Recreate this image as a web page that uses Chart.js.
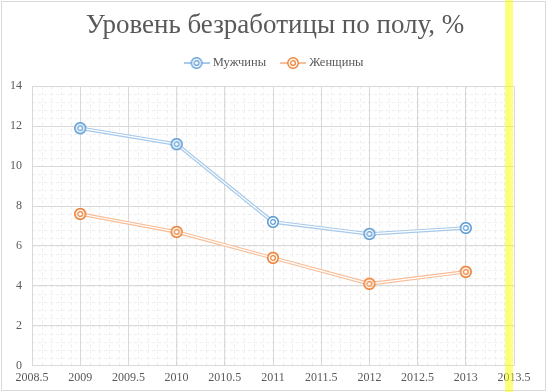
<!DOCTYPE html>
<html>
<head>
<meta charset="utf-8">
<script src="https://cdn.jsdelivr.net/npm/chart.js@4"></script>
<style>
html,body{margin:0;padding:0;background:#fff;}
#wrap{position:relative;width:546px;height:392px;overflow:hidden;background:#fff;}
#frame{position:absolute;left:1px;top:1px;width:545px;height:390px;border:1px solid #d9d9d9;box-sizing:border-box;}
#chart{position:absolute;left:0;top:0;}
#stripe{position:absolute;left:505px;top:0;width:8px;height:392px;background:rgba(255,255,0,0.5);}
</style>
</head>
<body>
<div id="wrap">
  <div id="frame"></div>
  <canvas id="chart" width="546" height="392"></canvas>
  <div id="stripe"></div>
</div>
<script>
const years = [2009, 2010, 2011, 2012, 2013];
const menValues = [11.9, 11.1, 7.2, 6.6, 6.9];
const womenValues = [7.6, 6.7, 5.4, 4.1, 4.7];
const seriesNames = ['Мужчины', 'Женщины'];
const xTickLabels = ['2008.5','2009','2009.5','2010','2010.5','2011','2011.5','2012','2012.5','2013','2013.5'];
const yTickLabels = ['0','2','4','6','8','10','12','14'];
const titleText = 'Уровень безработицы по полу, %';

const BLUE = '#5b9bd5', BLUE_LINE = '#a6c9ea';
const ORANGE = '#ed7d31', ORANGE_LINE = '#f7be98';
const TEXT = '#595959';
const FONT = 'Liberation Serif';
const X_MINOR_STEP = 0.1, Y_MINOR_STEP = 0.4;

function ringMarker(color, w, lineColor) {
  const c = document.createElement('canvas');
  c.width = w; c.height = 14;
  const g = c.getContext('2d');
  const cx = w / 2, cy = 7;
  if (lineColor) {
    g.strokeStyle = lineColor; g.lineWidth = 2;
    g.beginPath(); g.moveTo(0, cy); g.lineTo(w, cy); g.stroke();
  }
  g.fillStyle = '#ffffff';
  g.beginPath(); g.arc(cx, cy, 5.2, 0, Math.PI * 2); g.fill();
  g.strokeStyle = color; g.lineWidth = 1.4;
  g.beginPath(); g.arc(cx, cy, 5.2, 0, Math.PI * 2); g.stroke();
  g.lineWidth = 1.2;
  g.beginPath(); g.arc(cx, cy, 2.4, 0, Math.PI * 2); g.stroke();
  return c;
}
const pointIcons = [ringMarker(BLUE, 14), ringMarker(ORANGE, 14)];
const legendIcons = [ringMarker(BLUE, 26, BLUE_LINE), ringMarker(ORANGE, 26, ORANGE_LINE)];

// minor dashed gridlines, positioned through the chart's own scales
const minorGrid = {
  id: 'minorGrid',
  beforeDraw(chart) {
    const { ctx, chartArea: a, scales: { x, y } } = chart;
    ctx.save();
    ctx.strokeStyle = '#eeeeee';
    ctx.lineWidth = 1;
    ctx.setLineDash([3, 3]);
    const nx = Math.round((x.max - x.min) / X_MINOR_STEP);
    for (let i = 1; i < nx; i++) {
      const px = Math.round(x.getPixelForValue(x.min + i * X_MINOR_STEP)) + 0.5;
      ctx.beginPath(); ctx.moveTo(px, a.top); ctx.lineTo(px, a.bottom); ctx.stroke();
    }
    const ny = Math.round((y.max - y.min) / Y_MINOR_STEP);
    for (let j = 1; j < ny; j++) {
      const py = Math.round(y.getPixelForValue(y.min + j * Y_MINOR_STEP)) + 0.5;
      ctx.beginPath(); ctx.moveTo(a.left, py); ctx.lineTo(a.right, py); ctx.stroke();
    }
    ctx.restore();
  }
};
const doubleLine = {
  id: 'doubleLine',
  afterDatasetDraw(chart, args) {
    const pts = args.meta.data;
    const ctx = chart.ctx;
    ctx.save();
    ctx.strokeStyle = '#ffffff';
    ctx.lineWidth = 1.2;
    ctx.lineJoin = 'round';
    ctx.beginPath();
    pts.forEach((p, i) => i ? ctx.lineTo(p.x, p.y) : ctx.moveTo(p.x, p.y));
    ctx.stroke();
    ctx.restore();
    pts.forEach(p => p.draw(ctx, chart.chartArea));
  }
};
const legendGap = {
  id: 'legendGap',
  beforeLayout(chart) {
    const lg = chart.legend;
    if (lg && !lg._gapPatched) {
      const f = lg.fit;
      lg.fit = function () { f.call(this); this.height += 7; };
      lg._gapPatched = true;
    }
  }
};

const tickFont = { family: FONT, size: 12 };

new Chart(document.getElementById('chart'), {
  type: 'line',
  data: {
    datasets: [
      {
        label: seriesNames[0],
        data: years.map((x, i) => ({ x, y: menValues[i] })),
        borderColor: BLUE_LINE, borderWidth: 3.6,
        pointStyle: pointIcons[0], pointRadius: 6,
        tension: 0
      },
      {
        label: seriesNames[1],
        data: years.map((x, i) => ({ x, y: womenValues[i] })),
        borderColor: ORANGE_LINE, borderWidth: 3.6,
        pointStyle: pointIcons[1], pointRadius: 6,
        tension: 0
      }
    ]
  },
  options: {
    responsive: false,
    animation: false,
    layout: { padding: { left: 4, right: 0, top: 0, bottom: 2 } },
    plugins: {
      title: {
        display: true, text: titleText, color: TEXT,
        font: { family: FONT, size: 27, weight: 'normal', lineHeight: 0.8 },
        padding: { top: 15.1, bottom: 3.1 }
      },
      legend: {
        position: 'top',
        labels: {
          usePointStyle: true, pointStyleWidth: 20, padding: 17,
          color: TEXT, font: { family: FONT, size: 12.5 },
          generateLabels(chart) {
            const items = Chart.defaults.plugins.legend.labels.generateLabels(chart);
            items.forEach((it, i) => { it.pointStyle = legendIcons[i]; });
            return items;
          }
        }
      },
      tooltip: { enabled: false }
    },
    scales: {
      x: {
        type: 'linear', position: 'bottom', min: 2008.5, max: 2013.5,
        ticks: { stepSize: 0.5, autoSkip: false, maxRotation: 0, padding: 5, color: TEXT, font: tickFont,
                 callback: (v, i) => xTickLabels[i] },
        grid: { color: '#d9d9d9', drawTicks: false },
        border: { color: '#d9d9d9' },
        afterFit(s) { s.paddingLeft = 0; s.paddingRight = 0; }
      },
      y: {
        type: 'linear', position: 'left', min: 0, max: 14,
        ticks: { stepSize: 2, padding: 10, color: TEXT, font: tickFont,
                 callback: (v, i) => yTickLabels[i] },
        grid: { color: '#d9d9d9', drawTicks: false },
        border: { color: '#d9d9d9' },
        afterFit(s) { s.width = 28; }
      },
      rightSpace: {
        type: 'linear', position: 'right', display: true,
        ticks: { display: false }, grid: { display: false, drawTicks: false }, border: { display: false },
        afterFit(s) { s.width = 32; }
      }
    }
  },
  plugins: [minorGrid, doubleLine, legendGap]
});
</script>
</body>
</html>
